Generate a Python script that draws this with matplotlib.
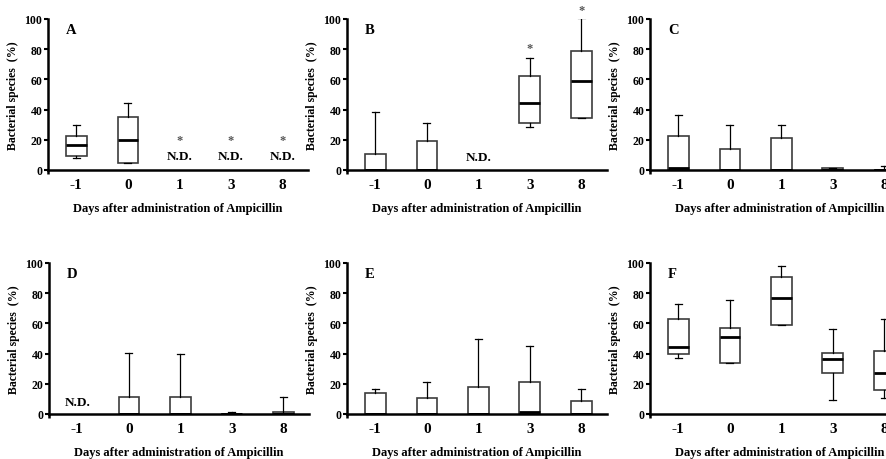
import matplotlib
matplotlib.use("Agg")
import matplotlib.pyplot as plt

plt.rcParams['font.family'] = ['Liberation Serif', 'DejaVu Serif']
plt.rcParams['font.weight'] = 'bold'

days = ['-1', '0', '1', '3', '8']

# (whislo, q1, median, q3, whishi) per day, None = not detected
panel_A = [(7.7, 9.5, 16.8, 22.7, 30.0), (4.4, 4.4, 20.0, 34.9, 44.6), None, None, None]
panel_B = [(0, 0, 0, 10.6, 38.4), (0, 0, 0, 19.4, 30.9), None,
           (28.3, 31.1, 44.4, 62.5, 74.4), (34.2, 34.2, 59.2, 79.0, 100.4)]
panel_C = [(0, 0, 1.1, 22.8, 36.4), (0, 0, 0, 13.8, 29.7), (0, 0, 0, 21.2, 29.7),
           (0, 0, 0, 1.1, 1.1), (0, 0, 0, 0, 2.7)]
panel_D = [None, (0, 0, 0, 11.5, 40.7), (0, 0, 0, 11.0, 40.0),
           (0, 0, 0, 0, 1.5), (0, 0, 0, 1.5, 11.5)]
panel_E = [(0, 0, 0, 14.2, 16.4), (0, 0, 0, 10.7, 20.9), (0, 0, 0, 17.6, 49.8),
           (0, 0, 1.5, 21.1, 45.1), (0, 0, 0, 8.9, 16.4)]
panel_F = [(37.4, 39.6, 44.5, 62.8, 73.0), (33.8, 33.8, 50.9, 56.9, 75.2),
           (59.0, 59.0, 77.0, 90.7, 98.2), (9.3, 27.4, 36.5, 40.5, 56.6),
           (10.8, 16.2, 27.0, 42.0, 62.6)]

# N.D. labels (day index, y) and significance stars (day index, y)
nd_A = [(2, 9.5), (3, 9.5), (4, 9.5)]
nd_B = [(2, 8.4)]
nd_D = [(0, 7.7)]
stars_A = [(2, 20), (3, 20), (4, 20)]
stars_B = [(3, 80.8), (4, 106)]

panels = [
    ('A', panel_A, nd_A, stars_A, 48, 20),
    ('B', panel_B, nd_B, stars_B, 347, 20),
    ('C', panel_C, [], [], 650, 20),
    ('D', panel_D, nd_D, [], 49, 264),
    ('E', panel_E, [], [], 347, 264),
    ('F', panel_F, [], [], 650, 264),
]

W, H = 887, 460
fig = plt.figure(figsize=(W / 100, H / 100), dpi=100)
aw, ah = 260, 151

for letter, data, nds, stars, left, top in panels:
    ax = fig.add_axes([left / W, (H - top - ah) / H, aw / W, ah / H])
    stats = []
    pos = []
    for i, s in enumerate(data):
        if s is None:
            continue
        lo, q1, med, q3, hi = s
        stats.append(dict(whislo=lo, q1=q1, med=med, q3=q3, whishi=hi, fliers=[]))
        pos.append(i)
    ax.bxp(stats, positions=pos, widths=0.4, capwidths=0.13, patch_artist=True,
           showfliers=False, manage_ticks=False,
           boxprops=dict(facecolor='white', edgecolor='#3c3c3c', linewidth=1.2),
           whiskerprops=dict(color='black', linewidth=0.9),
           capprops=dict(color='black', linewidth=0.9),
           medianprops=dict(color='black', linewidth=2.0))
    for i, y in nds:
        ax.text(i, y, 'N.D.', ha='center', va='center', fontsize=9.5, fontweight='bold')
    for i, y in stars:
        ax.text(i, y, '*', ha='center', va='center', fontsize=9, color='#555555',
                clip_on=False)
    ax.text(-0.2, 93, letter, ha='left', va='center', fontsize=10.5, fontweight='bold')

    ax.set_xlim(-0.55, 4.5)
    ax.set_ylim(0, 100)
    ax.set_xticks(range(len(days)))
    ax.set_xticklabels(days, fontsize=11, fontweight='bold')
    ax.tick_params(axis='x', length=0, pad=5.5)
    ax.set_xticks([-0.55], minor=True)
    ax.tick_params(axis='x', which='minor', length=3, width=1.8, direction='out')
    ax.set_yticks([0, 20, 40, 60, 80, 100])
    ax.tick_params(axis='y', length=3, width=1.5, pad=1, labelsize=8.5)
    for lab in ax.get_yticklabels():
        lab.set_fontweight('bold')
    for sp in ['top', 'right']:
        ax.spines[sp].set_visible(False)
    for sp in ['left', 'bottom']:
        ax.spines[sp].set_linewidth(1.8)
    ax.set_ylabel('Bacterial species  (%)', fontsize=8.5, fontweight='bold')
    ax.yaxis.set_label_coords(-0.11, 0.5)
    ax.set_xlabel('Days after administration of Ampicillin', fontsize=9, fontweight='bold')
    ax.xaxis.set_label_coords(0.5, -0.21)
    ax.patch.set_alpha(0)

fig.savefig('out.png', dpi=100)
